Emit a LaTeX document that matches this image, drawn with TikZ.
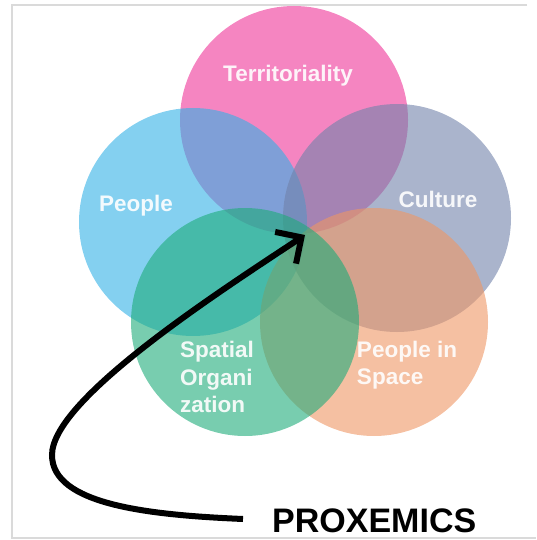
\documentclass[tikz,border=0pt]{standalone}
\usepackage{fontspec}
\setmainfont{Liberation Sans}
\usetikzlibrary{positioning,arrows.meta}

\definecolor{terrpink}{RGB}{238,52,152}
\definecolor{peopleblue}{RGB}{50,177,230}
\definecolor{cultgray}{RGB}{113,130,170}
\definecolor{spacesalmon}{RGB}{238,150,100}
\definecolor{orggreen}{RGB}{30,172,122}
\definecolor{framegray}{RGB}{218,218,218}

\begin{document}
\begin{tikzpicture}[x = 1pt, y = -1pt, on grid,
	disc/.style = {circle, minimum size = 228pt, inner sep = 0pt, fill opacity = 0.6},
	tag/.style = {text = white, text opacity = 0.9, inner sep = 0pt, align = left, font = \bfseries\fontsize{22.5}{27.5}\selectfont},
	pointer/.style = {line width = 6pt, -{Straight Barb[length = 19pt, width = 38pt]}}]
	\useasboundingbox (0,0) rectangle (536,540);
	\draw[framegray, line width = 1.5pt] (527,5) -- (12,5) -- (12,538) -- (536,538);
	% the five circles
	\node[disc, fill = terrpink] (terr) at (294,120) {};
	\node[disc, fill = peopleblue] (people) at (193,222) {};
	\node[disc, fill = cultgray] (cult) at (397,218) {};
	\node[disc, fill = spacesalmon] (space) at (374,322) {};
	\node[disc, fill = orggreen] (org) at (245,322) {};
	\node[tag] (terrtag) [above left = 44pt and 6pt of terr] {Territoriality};
	\node[tag] (peopletag) [above left = 16pt and 57pt of people] {People};
	\node[tag] (culttag) [above right = 19pt and 41pt of cult] {Culture};
	\node[tag] (orgtag) [below left = 55pt and 28pt of org] {Spatial\\Organi\\zation};
	\node[tag] (spacetag) [below right = 43pt and 33pt of space] {People in\\Space};
	\node[font = \bfseries\fontsize{34}{40}\selectfont, inner sep = 0pt, anchor = base west] (prox) at (272,532) {PROXEMICS};
	\coordinate (tail) at (243,519);
	\coordinate (core) at (305,235);
	\draw[pointer] (tail) .. controls (150,515) and (52,505) .. (52,455) .. controls (52,400) and (214,295) .. (core);
\end{tikzpicture}
\end{document}
